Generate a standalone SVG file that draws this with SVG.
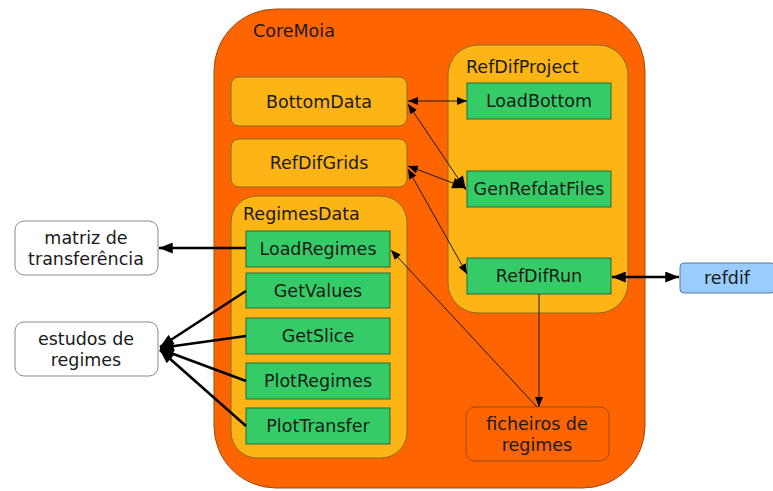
<svg xmlns="http://www.w3.org/2000/svg" width="773" height="491" viewBox="0 0 773 491">
<style>
text{font-family:"DejaVu Sans",Verdana,sans-serif;font-size:17.5px;fill:#1a1a1a}
.c{text-anchor:middle}
.core{fill:#fe6400;stroke:#9a4a10;stroke-width:1}
.yel{fill:#fdb515;stroke:#8a6a20;stroke-width:1}
.grn{fill:#35cc68;stroke:#2a6a3a;stroke-width:1}
.wht{fill:#ffffff;stroke:#8a8a8a;stroke-width:1}
.blu{fill:#99ccff;stroke:#5a7a9a;stroke-width:1}
.thin{stroke:#1a1a1a;stroke-width:1;fill:none}
.thick{stroke:#000;stroke-width:2.6;fill:none}
</style>
<defs>
<marker id="a" viewBox="0 0 10 8" refX="10" refY="4" markerWidth="10" markerHeight="8" markerUnits="userSpaceOnUse" orient="auto-start-reverse"><path d="M0,0L10,4L0,8z" fill="#000"/></marker>
<marker id="A" viewBox="0 0 10 8" refX="10" refY="4" markerWidth="15" markerHeight="11" markerUnits="userSpaceOnUse" orient="auto-start-reverse"><path d="M0,0L10,4L0,8z" fill="#000"/></marker>
</defs>
<g id="CoreMoia">
<rect class="core" x="214" y="9" width="431" height="479" rx="62" ry="62"/>
<text x="253" y="37">CoreMoia</text>
</g>
<g id="BottomData"><rect class="yel" x="231" y="77" width="176" height="49" rx="8"/><text class="c" x="319" y="108">BottomData</text></g>
<g id="RefDifGrids"><rect class="yel" x="231" y="139" width="176" height="48" rx="8"/><text class="c" x="319" y="169">RefDifGrids</text></g>
<g id="RegimesData"><rect class="yel" x="231" y="196" width="176" height="262" rx="26"/><text x="243" y="220">RegimesData</text></g>
<g id="LoadRegimes"><rect class="grn" x="246" y="231" width="144" height="36"/><text class="c" x="318" y="255">LoadRegimes</text></g>
<g id="GetValues"><rect class="grn" x="246" y="273" width="144" height="35"/><text class="c" x="318" y="297">GetValues</text></g>
<g id="GetSlice"><rect class="grn" x="246" y="318" width="144" height="36"/><text class="c" x="318" y="342">GetSlice</text></g>
<g id="PlotRegimes"><rect class="grn" x="246" y="363" width="144" height="36"/><text class="c" x="318" y="387">PlotRegimes</text></g>
<g id="PlotTransfer"><rect class="grn" x="246" y="408" width="144" height="36"/><text class="c" x="318" y="432">PlotTransfer</text></g>
<g id="RefDifProject"><rect class="yel" x="448" y="45" width="180" height="268" rx="30"/><text x="466" y="73">RefDifProject</text></g>
<g id="LoadBottom"><rect class="grn" x="467" y="83" width="144" height="36"/><text class="c" x="539" y="107">LoadBottom</text></g>
<g id="GenRefdatFiles"><rect class="grn" x="467" y="171" width="144" height="36"/><text class="c" x="539" y="195">GenRefdatFiles</text></g>
<g id="RefDifRun"><rect class="grn" x="467" y="258" width="144" height="36"/><text class="c" x="539" y="282">RefDifRun</text></g>
<g id="ficheiros"><rect class="core" x="466" y="407" width="143" height="54" rx="9"/><text class="c" x="537" y="430">ficheiros de</text><text class="c" x="537" y="451">regimes</text></g>
<g id="matriz"><rect class="wht" x="15" y="221" width="143" height="54" rx="9"/><text class="c" x="86" y="244">matriz de</text><text class="c" x="86" y="265">transferência</text></g>
<g id="estudos"><rect class="wht" x="15" y="322" width="143" height="54" rx="9"/><text class="c" x="86" y="345">estudos de</text><text class="c" x="86" y="366">regimes</text></g>
<g id="refdif"><rect class="blu" x="680" y="263" width="95" height="30" rx="4"/><text class="c" x="727" y="284">refdif</text></g>
<g id="connectors">
<line class="thin" x1="408" y1="101" x2="467" y2="101" marker-start="url(#a)" marker-end="url(#a)"/>
<line class="thin" x1="408" y1="104" x2="466" y2="190" marker-start="url(#a)" marker-end="url(#A)"/>
<line class="thin" x1="408" y1="166" x2="466" y2="188" marker-start="url(#a)" marker-end="url(#A)"/>
<line class="thin" x1="408" y1="169" x2="467" y2="274" marker-start="url(#a)" marker-end="url(#a)"/>
<line class="thin" x1="539" y1="294" x2="539" y2="407" marker-end="url(#a)"/>
<line class="thin" x1="537" y1="407" x2="391" y2="250" marker-end="url(#a)"/>
<line class="thick" x1="612" y1="277" x2="679" y2="277" marker-start="url(#A)" marker-end="url(#A)"/>
<line class="thick" x1="246" y1="248" x2="159" y2="248" marker-end="url(#A)"/>
<line class="thick" x1="246" y1="291" x2="160" y2="347" marker-end="url(#A)"/>
<line class="thick" x1="246" y1="336" x2="160" y2="348" marker-end="url(#A)"/>
<line class="thick" x1="246" y1="381" x2="160" y2="349" marker-end="url(#A)"/>
<line class="thick" x1="246" y1="426" x2="160" y2="350" marker-end="url(#A)"/>
</g>
</svg>
